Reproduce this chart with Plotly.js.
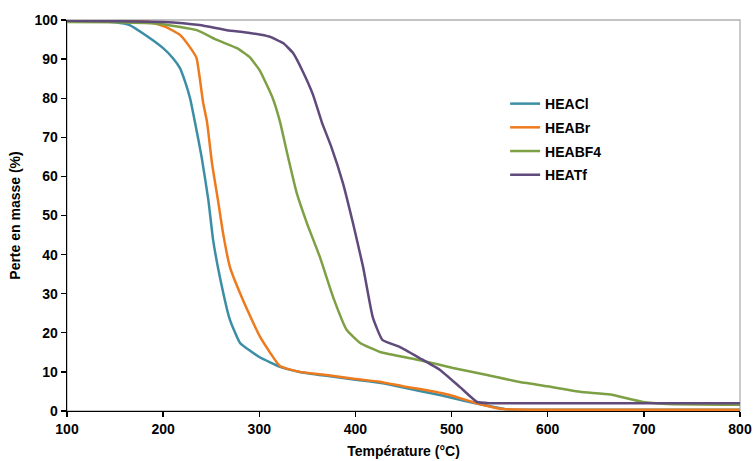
<!DOCTYPE html>
<html>
<head>
<meta charset="utf-8">
<script src="https://cdn.plot.ly/plotly-3.0.1.min.js"></script>
<style>html,body{margin:0;padding:0;background:#fff;}#chart{width:753px;height:461px;}</style>
</head>
<body>
<div id="chart"></div>
<script>
const seriesNames = ["HEACl", "HEABr", "HEABF4", "HEATf"];

const tempHEACl = [100,130,150,165,186,200,210,217.5,223,228,233,240,247,252,259,269.5,280,300,321.5,342,370,400,425,450,467,480,500,526,558,600,700,800];
const massHEACl = [99.8,99.7,99.4,98.7,95.4,92.8,90.3,87.7,84.1,80,74,65,54,43.7,34.3,23.3,17.4,13.8,11.3,10,9,8,7.2,6.0,5.1,4.5,3.4,1.9,0.4,0.3,0.3,0.3];

const tempHEABr = [100,150,186,203,217.5,228,234.7,241.5,245.6,251,257,262.3,269.5,283,300.7,321.5,342,370,400,425,450,467,498,526,553.5,600,800];
const massHEABr = [99.9,99.9,99.5,98.2,96.2,93,90.3,79,74,63,54,45.5,36.8,28.4,19,11.5,10,9.2,8.2,7.5,6.3,5.6,4.1,2.0,0.5,0.3,0.3];

const tempHEABF4 = [100,150,197,235,256,276.8,290,300.7,314,321.5,328,339,349.6,363,376.7,391,405,425.6,467,501.5,537,571,605.5,633.6,665,699,724,800];
const massHEABF4 = [99.5,99.4,99,97.4,94.9,92.8,90.5,87,80,74,67,55.7,48,39.4,29.2,20.7,17.4,15.1,13,11,9.2,7.4,6.1,4.9,4.2,2.3,1.8,1.6];

const tempHEATf = [100,150,200,238,266.4,290,311,324.7,335,345.5,356,365,375,387,397.5,408,418,428,446,467,488,508.8,526.5,540,600,800];
const massHEATf = [99.8,99.7,99.5,98.7,97.4,96.7,95.7,94.1,91.6,86.7,80.8,73.9,67.5,58.3,48,36.8,24,18.2,16.4,13.5,10.5,6.1,2.3,2.0,2.0,2.0];

const xTicks = [100,200,300,400,500,600,700,800];
const yTicks = [0,10,20,30,40,50,60,70,80,90,100];

const colors = ["#3B8EA5", "#EE7A1E", "#7EA044", "#604A7B"];
const temps = [tempHEACl, tempHEABr, tempHEABF4, tempHEATf];
const masses = [massHEACl, massHEABr, massHEABF4, massHEATf];

const font = {family: "Liberation Sans, Arial, sans-serif", size: 14, color: "#000", weight: "bold"};

const traces = seriesNames.map((n, i) => ({
  x: temps[i], y: masses[i], name: n, type: "scatter", mode: "lines",
  legendgroup: n,
  line: {color: colors[i], width: 2.5, shape: "spline", smoothing: 0.4}
}));

const layout = {
  width: 753, height: 461,
  margin: {l: 67, r: 13, t: 20, b: 50},
  paper_bgcolor: "#fff", plot_bgcolor: "#fff",
  font: font,
  showlegend: true,
  legend: {x: 0.651, y: 0.826, xanchor: "left", yanchor: "top", font: font, tracegroupgap: 2.5, bgcolor: "rgba(0,0,0,0)"},
  xaxis: {
    range: [100, 800], tickvals: xTicks, ticktext: xTicks.map(String),
    showgrid: false, zeroline: false, showline: true, linecolor: "#000", linewidth: 1.3,
    ticks: "outside", ticklen: 5, tickcolor: "#000", tickwidth: 1.3,
    tickfont: font,
    title: {text: "Température (°C)", font: font, standoff: 10}
  },
  yaxis: {
    range: [0, 100], tickvals: yTicks, ticktext: yTicks.map(String),
    showgrid: false, zeroline: false, showline: true, linecolor: "#000", linewidth: 1.3,
    ticks: "outside", ticklen: 5, tickcolor: "#000", tickwidth: 1.3,
    tickfont: font,
    title: {text: "Perte en masse (%)", font: font, standoff: 10}
  },
  shapes: [{type: "rect", xref: "paper", yref: "paper", x0: 0, x1: 1, y0: 0, y1: 1,
    line: {color: "#B0B0B0", width: 1.3}, layer: "below"}]
};

Plotly.newPlot("chart", traces, layout, {staticPlot: true});
</script>
</body>
</html>
